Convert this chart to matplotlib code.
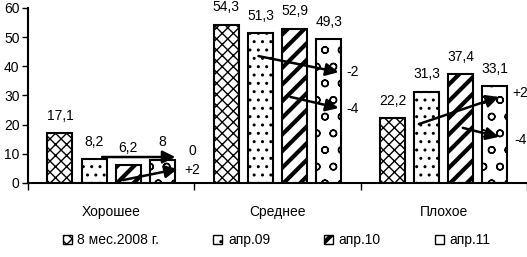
import numpy as np
import matplotlib
matplotlib.use('Agg')
import matplotlib.pyplot as plt

plt.rcParams['font.family'] = ['Liberation Sans', 'DejaVu Sans']
plt.rcParams['hatch.linewidth'] = 1.0

# Данные
categories = ['Хорошее', 'Среднее', 'Плохое']
series_names = ['8 мес.2008 г.', 'апр.09', 'апр.10', 'апр.11']
values = [
    [17.1, 54.3, 22.2],
    [8.2, 51.3, 31.3],
    [6.2, 52.9, 37.4],
    [8.0, 49.3, 33.1],
]
hatches = ['xxx', '..', '//', 'o']

# Стрелки изменений: (категория, x начала, y начала, x конца, y конца, подпись)
arrow_cat = [0, 0, 1, 1, 2, 2]
arrow_x0 = [-0.054, 0.072, -0.114, 0.078, -0.15, 0.114]
arrow_y0 = [8.9, 1.0, 43.5, 29.5, 20.2, 18.9]
arrow_x1 = [0.386, 0.40, 0.367, 0.367, 0.331, 0.331]
arrow_y1 = [8.9, 4.8, 38.0, 25.7, 29.5, 15.8]
arrow_lbl = ['0', '+2', '-2', '-4', '+2', '-4']
arrow_lbl_x = [0.49, 0.49, 0.45, 0.45, 0.46, 0.46]
arrow_lbl_y = [10.8, 4.5, 38.0, 25.4, 30.9, 14.7]

fig = plt.figure(figsize=(5.27, 2.57), dpi=100)
ax = fig.add_axes([0.053, 0.288, 0.947, 0.681])


def thick_hatch(artist):
    try:
        artist.set_hatch_linewidth(3.0)
    except AttributeError:
        pass


x = np.arange(len(categories))
width = 0.15
step = 0.205
for i in range(4):
    pos = x + (i - 1.5) * step
    bars = ax.bar(pos, values[i], width, color='white', edgecolor='black',
                  hatch=hatches[i], linewidth=1.5, label=series_names[i])
    if i == 2:
        for b in bars:
            thick_hatch(b)
    for xp, v in zip(pos, values[i]):
        txt = ('%g' % v).replace('.', ',')
        ax.text(xp, v + 3.5, txt, ha='center', va='bottom', fontsize=10)

for c, x0, y0, x1, y1, lbl, lx, ly in zip(arrow_cat, arrow_x0, arrow_y0, arrow_x1,
                                           arrow_y1, arrow_lbl, arrow_lbl_x, arrow_lbl_y):
    ax.annotate('', xy=(c + x1, y1), xytext=(c + x0, y0),
                arrowprops=dict(arrowstyle='-|>', color='black', lw=1.8,
                                mutation_scale=19, shrinkA=0, shrinkB=0))
    ax.text(c + lx, ly, lbl, ha='center', va='center', fontsize=10)

ax.set_xlim(-0.5, 2.5)
ax.set_ylim(0, 60)
ax.set_yticks(range(0, 61, 10))
ax.set_xticks(x)
ax.set_xticklabels(categories, fontsize=10)
ax.set_xticks([-0.5, 0.5, 1.5, 2.5], minor=True)
ax.tick_params(axis='x', which='major', length=0, pad=16)
ax.tick_params(axis='x', which='minor', length=5, width=1)
ax.tick_params(axis='y', length=4, width=1, labelsize=10, pad=2)
for s in ['top', 'right']:
    ax.spines[s].set_visible(False)
ax.spines['left'].set_linewidth(1.5)
ax.spines['bottom'].set_linewidth(1.5)

leg = fig.legend(loc='lower center', bbox_to_anchor=(0.525, -0.01), ncol=4,
                 frameon=False, fontsize=10, handlelength=0.65, handleheight=0.65,
                 handletextpad=0.4, columnspacing=3.9)
for h in leg.legend_handles:
    h.set_linewidth(1.0)
thick_hatch(leg.legend_handles[2])

fig.savefig('out.png', dpi=100)
